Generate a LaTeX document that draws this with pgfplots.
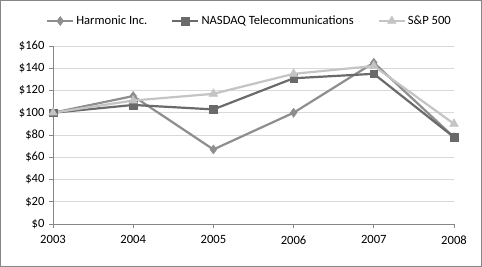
\documentclass[border=0pt]{standalone}
\usepackage{pgfplots}
\pgfplotsset{compat=1.18}
\usepackage{fontspec}
\setmainfont{Carlito}
\definecolor{harm}{HTML}{8E8E8E}
\definecolor{nasd}{HTML}{6A6A6A}
\definecolor{spc}{HTML}{C4C4C4}
\definecolor{axc}{HTML}{868686}
\definecolor{grc}{HTML}{D9D9D9}
\begin{document}
\begin{tikzpicture}[x=1pt,y=1pt]
\useasboundingbox (0,0) rectangle (482,267);
\draw[axc, line width=1pt] (0.5,0.5) rectangle (481.5,266.5);
\begin{axis}[
  at={(53pt,43pt)}, anchor=south west,
  scale only axis, width=401pt, height=178pt,
  xmin=2003, xmax=2008, ymin=0, ymax=160,
  axis x line*=bottom, axis y line*=left,
  axis line style={axc, line width=0.8pt, -},
  xtick={2003,2004,2005,2006,2007,2008},
  xticklabels={2003,2004,2005,2006,2007,2008},
  ytick={0,20,40,60,80,100,120,140,160},
  yticklabels={\$0,\$20,\$40,\$60,\$80,\$100,\$120,\$140,\$160},
  tick align=outside, major tick length=4pt,
  tick style={axc, line width=0.8pt},
  ymajorgrids, grid style={grc, line width=0.8pt},
  every tick label/.append style={font=\fontsize{12.6}{14}\selectfont, text=black},
  xticklabel style={yshift=-4pt},
  yticklabel style={xshift=-1pt},
  legend columns=3,
  legend style={draw=none, fill=none, at={(0.5,1)}, anchor=center, yshift=25pt, xshift=-4pt,
    font=\fontsize{12.6}{14}\selectfont,
    /tikz/every even column/.append style={column sep=22pt}},
  legend cell align=left,
  legend image code/.code={\draw[mark repeat=2,mark phase=2,#1] plot coordinates {(0pt,0pt) (13pt,0pt) (26pt,0pt)};},
]
\addplot[harm, line width=2.2pt, mark=diamond*, mark size=4.5pt, mark options={solid, fill=harm, line width=0.5pt}]
  coordinates {(2003,100) (2004,115) (2005,67) (2006,100) (2007,145) (2008,78)};
\addlegendentry{Harmonic Inc.}
\addplot[nasd, line width=2.2pt, mark=square*, mark size=3.8pt, mark options={solid, fill=nasd, line width=0.5pt}]
  coordinates {(2003,100) (2004,107) (2005,103) (2006,131) (2007,135) (2008,78)};
\addlegendentry{NASDAQ Telecommunications}
\addplot[spc, line width=2.2pt, mark=triangle*, mark size=5pt, mark options={solid, fill=spc, line width=0.5pt}]
  coordinates {(2003,100) (2004,111) (2005,117) (2006,135) (2007,142) (2008,90)};
\addlegendentry{S\&P 500}
\end{axis}
\end{tikzpicture}
\end{document}
